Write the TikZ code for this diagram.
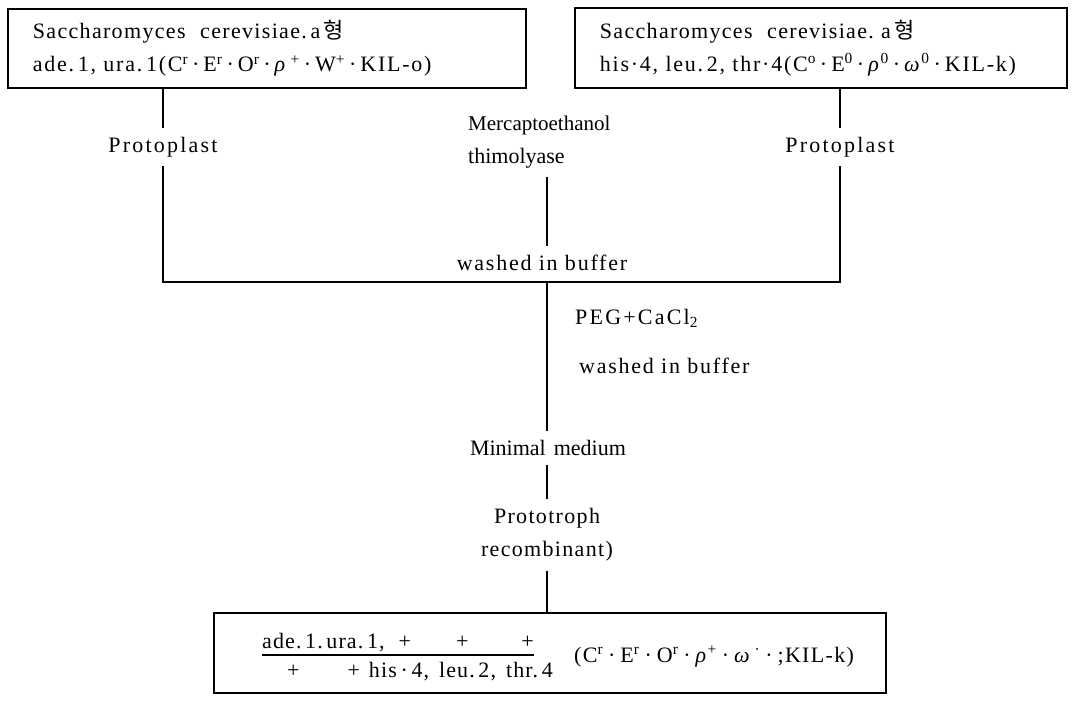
\documentclass[tikz,border=0pt]{standalone}
\usepackage{fontspec}
\setmainfont{Liberation Serif}
\newfontfamily\lsz{Liberation Serif}[LetterSpace=0]
\newfontfamily\lsv{Liberation Serif}[LetterSpace=5]
\newfontfamily\lss{Liberation Serif}[LetterSpace=6]
\newfontfamily\lst{Liberation Serif}[LetterSpace=8]
\newfontfamily\lse{Liberation Serif}[LetterSpace=8]
\newfontfamily\lsx{Liberation Serif}[LetterSpace=10]
\newfontfamily\kr{Noto Sans CJK KR}
\newcommand\dt{\hspace{4pt}·\hspace{4pt}}
\newcommand\dtw{\hspace{5pt}·\hspace{5pt}}
\begin{document}
\begin{tikzpicture}[x=1pt,y=-1pt,
  every node/.style={font=\fontsize{22}{33}\selectfont, inner sep=0pt},
  box/.style={draw, line width=1.8pt, anchor=north west, align=left},
  lbl/.style={align=center, inner ysep=9pt, inner xsep=2pt},
  ln/.style={line width=1.8pt}]
\useasboundingbox (0,0) rectangle (1072,705);
% top boxes
\node[box, minimum width=518pt, minimum height=79pt, text width=468pt, inner xsep=25pt] (b1) at (7,8)
  {{\lss Saccharomyces\ \ cerevisiae.\,a\,{\kr 형}}\\
   {\lst ade.\,1, ura.\,1(C\textsuperscript{r}\dt E\textsuperscript{r}\dt O\textsuperscript{r}\dt\textit{ρ}\,\textsuperscript{+}\dt W\textsuperscript{+}\dt KIL-o)}};
\node[box, minimum width=492pt, minimum height=80pt, text width=442pt, inner xsep=25pt] (b2) at (574,7)
  {{\lss Saccharomyces\ \ cerevisiae.\ a\,{\kr 형}}\\
   {\lst his·4,\ leu.\,2,\ thr·4(C\textsuperscript{o}\dt E\textsuperscript{0}\dt\textit{ρ}\textsuperscript{0}\dt\textit{ω}\textsuperscript{0}\dt KIL-k)}};
% side labels
\node[lbl] (p1) at (163,147) {\lsx Protoplast};
\node[lbl] (p2) at (840,147) {\lsx Protoplast};
\node[lbl, align=left, anchor=west] (merc) at (466,142) {\fontsize{21}{31}\lsz Mercaptoethanol\\thimolyase};
\node[lbl] (w1) at (542,263) {\lse washed in buffer};
\coordinate (jl) at (163,282);
\coordinate (jr) at (840,282);
\coordinate (jc) at (547,282);
% centre column
\node[lbl, anchor=west] (peg) at (573,318) {\lsx PEG+CaCl\textsubscript{2}};
\node[lbl, anchor=west] (w2) at (577,366) {\lse washed in buffer};
\node[lbl] (mm) at (548,448) {\lsz Minimal\hspace{8pt}medium};
\node[lbl] (pt) at (547,535) {{\lss Prototroph}\\{\lss recombinant)}};
% bottom box
\node[box, minimum width=672pt, minimum height=80pt] (b3) at (213,612) {};
\node[anchor=base west] (num) at (262,648) {\lsv ade.\,1.\,ura.\,1,\hspace{14pt}+\hspace{45pt}+\hspace{53pt}+};
\node[anchor=base west] (den) at (262,677) {\lsv \hspace{25pt}+\hspace{48pt}+\hspace{9pt}his\,·\,4,\hspace{10pt}leu.\,2,\hspace{10pt}thr.\,4};
\node[anchor=base west] (par) at (574,662) {\lss (C\textsuperscript{r}\dtw E\textsuperscript{r}\dtw O\textsuperscript{r}\dtw\textit{ρ}\textsuperscript{+}\dtw\textit{ω}\,\textsuperscript{·}\dtw;KIL-k)};
% connectors
\draw[ln] (b1.south -| p1) -- (p1.north);
\draw[ln] (b2.south -| p2) -- (p2.north);
\draw[ln] (p1.south) -- (jl) -- (jr) -- (p2.south);
\draw[ln] (merc.south -| jc) -- (w1.north -| jc);
\draw[ln] (jc) -- (mm.north -| jc);
\draw[ln] (mm.south -| jc) -- (pt.north -| jc);
\draw[ln] (pt.south -| jc) -- (b3.north -| jc);
\draw[line width=1.3pt] ([yshift=-7pt]num.base west) -- ([yshift=-7pt]num.base east);
\end{tikzpicture}
\end{document}
